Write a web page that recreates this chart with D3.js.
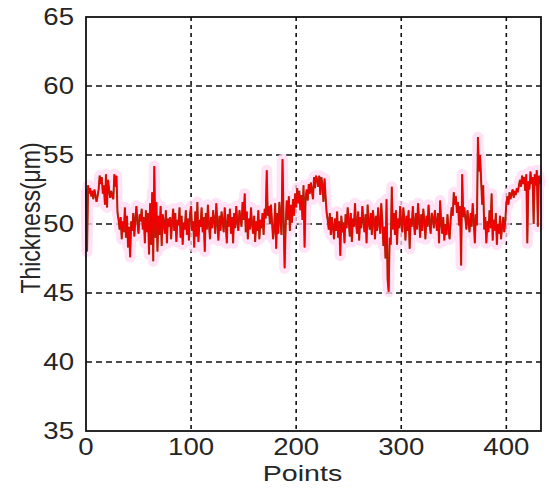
<!DOCTYPE html>
<html>
<head>
<meta charset="utf-8">
<script src="https://cdn.jsdelivr.net/npm/d3@7"></script>
<style>
  body { margin: 0; background: #fff; }
  svg { display: block; }
  text { font-family: "Liberation Sans", Arial, sans-serif; fill: #262626; }
</style>
</head>
<body>
<svg id="chart"></svg>
<script>
const thickness = [
  52.5, 48.0, 52.8, 52.2, 52.6, 52.0, 52.4, 51.8, 52.5, 52.1,
  51.6, 52.0, 52.5, 53.5, 52.9, 53.4, 52.2, 52.8, 51.4, 53.6,
  51.2, 53.2, 52.5, 51.9, 52.4, 52.0, 51.8, 53.6, 52.7, 53.5,
  50.8, 50.3, 49.6, 50.5, 48.9, 50.2, 49.4, 51.2, 49.0, 50.6,
  48.3, 49.8, 47.6, 50.2, 49.5, 50.8, 49.1, 50.4, 51.3, 50.0,
  49.3, 50.7, 50.2, 51.1, 49.6, 50.5, 48.6, 51.0, 49.4, 50.8,
  47.8, 51.5, 48.5, 52.3, 47.3, 54.2, 49.0, 51.6, 48.0, 50.6,
  49.2, 51.3, 48.4, 50.7, 50.1, 49.3, 51.0, 48.6, 50.4, 49.8,
  50.5, 48.9, 50.2, 51.1, 49.5, 50.8, 48.7, 50.3, 49.9, 51.2,
  49.0, 50.6, 48.5, 50.1, 49.6, 51.0, 49.2, 50.4, 48.8, 50.7,
  51.3, 49.5, 50.2, 48.3, 50.9, 49.1, 51.6, 48.7, 50.3, 49.8,
  51.2, 49.4, 50.5, 48.0, 50.8, 49.6, 51.4, 50.0, 48.9, 50.5,
  49.7, 51.0, 50.2, 49.3, 51.5, 50.1, 48.8, 50.6, 49.5, 50.9,
  50.2, 49.4, 51.2, 50.0, 48.6, 50.7, 49.8, 51.1, 49.3, 50.5,
  48.6, 50.8, 49.7, 51.3, 50.1, 49.5, 51.0, 50.4, 49.8, 51.6,
  50.3, 52.2, 49.4, 50.9, 48.9, 50.4, 49.6, 51.2, 50.0, 49.3,
  50.6, 48.7, 50.2, 49.5, 51.0, 48.9, 50.3, 49.7, 50.8, 49.2,
  51.1, 50.4, 53.9, 50.6, 51.3, 50.0, 51.4, 50.2, 48.9, 49.6,
  51.5, 48.2, 50.8, 49.3, 51.6, 50.4, 49.2, 54.7, 50.5, 46.8,
  49.8, 51.7, 50.3, 52.0, 49.5, 51.4, 50.1, 51.8, 50.6, 52.2,
  51.2, 52.6, 51.5, 52.4, 51.0, 52.1, 50.3, 52.8, 48.3, 51.9,
  52.5, 51.7, 52.9, 52.2, 53.0, 52.4, 51.8, 53.4, 52.6, 53.5,
  53.2, 52.7, 53.5, 52.1, 53.4, 52.8, 51.6, 53.3, 52.0, 50.8,
  50.3, 49.6, 50.8, 49.2, 50.5, 49.8, 48.9, 50.4, 49.5, 50.9,
  49.0, 50.2, 47.7, 50.6, 49.4, 50.1, 48.6, 50.7, 49.7, 51.2,
  50.3, 49.1, 50.8, 48.7, 50.4, 49.8, 51.5, 50.0, 49.3, 50.9,
  48.8, 50.5, 49.7, 51.3, 50.2, 49.4, 50.7, 48.6, 51.4, 50.1,
  49.6, 50.8, 49.2, 51.0, 50.3, 48.9, 50.6, 49.5, 51.2, 50.0,
  49.3, 51.5, 50.2, 48.4, 49.8, 47.5, 51.8, 46.0, 45.1, 49.0,
  48.5, 52.7, 49.6, 50.8, 49.2, 51.0, 48.5, 50.4, 49.7, 51.3,
  50.0, 49.4, 51.2, 50.3, 48.8, 50.6, 49.5, 51.0, 48.2, 50.4,
  49.8, 51.3, 50.1, 49.2, 50.8, 49.6, 51.5, 50.3, 49.0, 50.7,
  49.5, 51.1, 50.2, 48.9, 50.6, 49.8, 51.4, 50.0, 49.3, 50.8,
  50.4, 49.7, 51.0, 50.2, 49.5, 50.8, 48.6, 51.7, 50.1, 49.3,
  50.5, 48.8, 50.0, 49.2, 50.7, 49.6, 48.9, 50.3, 51.2, 50.6,
  52.3, 51.4, 52.0, 50.8, 51.6, 49.9, 51.3, 47.0, 53.6, 50.5,
  51.2, 50.4, 49.6, 51.0, 50.2, 49.4, 50.8, 49.8, 51.5, 50.3,
  48.6, 50.7, 49.9, 56.3, 53.8, 55.0, 53.2, 51.4, 52.8, 49.6,
  50.5, 48.6, 50.2, 49.4, 51.0, 49.7, 52.2, 48.8, 50.3, 49.5,
  50.8, 48.5, 50.0, 49.3, 50.6, 48.9, 49.8, 50.5, 49.4, 50.2,
  51.5, 52.0, 51.4, 52.3, 51.8, 52.2, 52.5, 51.9, 52.4, 52.1,
  52.6, 52.3, 52.8, 53.2, 52.7, 53.5, 52.9, 53.4, 52.4, 53.6,
  48.6, 53.1, 52.5, 53.8, 52.9, 53.4, 50.0, 53.6, 52.8, 53.9,
  49.8, 53.5, 52.9, 53.3
];
const xTicks = [0, 100, 200, 300, 400];
const yTicks = [35, 40, 45, 50, 55, 60, 65];
const xDomain = [0, 433];
const yDomain = [35, 65];

const width = 550, height = 488;
const margin = { top: 17, right: 9, bottom: 57, left: 86 };
const innerW = width - margin.left - margin.right;
const innerH = height - margin.top - margin.bottom;
const stretch = 1.2; // the source glyphs are drawn wide

const svg = d3.select("svg#chart")
  .attr("width", width)
  .attr("height", height)
  .style("background", "#fff");

const g = svg.append("g")
  .attr("transform", `translate(${margin.left},${margin.top})`);

const x = d3.scaleLinear().domain(xDomain).range([0, innerW]);
const y = d3.scaleLinear().domain(yDomain).range([innerH, 0]);

// dashed grid
g.append("g").selectAll("line")
  .data(yTicks.slice(1, -1))
  .join("line")
  .attr("x1", 0).attr("x2", innerW)
  .attr("y1", d => y(d)).attr("y2", d => y(d))
  .attr("stroke", "#111").attr("stroke-width", 1.6)
  .attr("stroke-dasharray", "6,4");

g.append("g").selectAll("line")
  .data(xTicks.slice(1))
  .join("line")
  .attr("x1", d => x(d)).attr("x2", d => x(d))
  .attr("y1", 0).attr("y2", innerH)
  .attr("stroke", "#111").attr("stroke-width", 1.6)
  .attr("stroke-dasharray", "4,4");

// the measured line: pink halo, dark edge, red core
const line = d3.line()
  .x((d, i) => x(i))
  .y(d => y(d));

g.append("path")
  .datum(thickness)
  .attr("d", line)
  .attr("fill", "none")
  .attr("stroke", "#ffd8f2")
  .attr("stroke-opacity", 0.75)
  .attr("stroke-width", 11)
  .attr("stroke-linejoin", "round");

g.append("path")
  .datum(thickness)
  .attr("d", line)
  .attr("fill", "none")
  .attr("stroke", "#9b3510")
  .attr("stroke-width", 2);

g.append("path")
  .datum(thickness)
  .attr("d", line)
  .attr("fill", "none")
  .attr("stroke", "#f00000")
  .attr("stroke-width", 1.2);

// frame
g.append("rect")
  .attr("width", innerW).attr("height", innerH)
  .attr("fill", "none")
  .attr("stroke", "#111").attr("stroke-width", 1.8);

// tick labels
g.append("g").selectAll("text")
  .data(yTicks)
  .join("text")
  .attr("transform", d => `translate(-12,${y(d)}) scale(${stretch},1)`)
  .attr("text-anchor", "end")
  .attr("dy", "0.36em")
  .attr("font-size", 23)
  .text(d => d);

g.append("g").selectAll("text")
  .data(xTicks)
  .join("text")
  .attr("transform", d => `translate(${x(d)},${innerH + 24}) scale(${stretch},1)`)
  .attr("text-anchor", "middle")
  .attr("font-size", 23)
  .text(d => d);

// axis titles
g.append("text")
  .attr("transform", `translate(${innerW / 2 - 11},${innerH + 50}) scale(1.3,1)`)
  .attr("text-anchor", "middle")
  .attr("font-size", 22)
  .text("Points");

g.append("text")
  .attr("transform", `translate(${40 - margin.left},${218 - margin.top}) scale(${stretch},1) rotate(-90)`)
  .attr("text-anchor", "middle")
  .attr("font-size", 23)
  .text("Thickness(μm)");
</script>
</body>
</html>
